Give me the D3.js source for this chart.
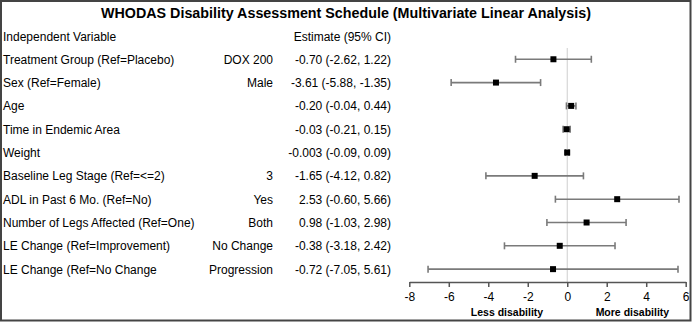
<!DOCTYPE html>
<meta charset="utf-8" />
<script src="https://d3js.org/d3.v7.min.js"></script>
<style>
  body { margin: 0; background: #fff; }
  text { font-family: "Liberation Sans", Arial, sans-serif; }
</style>
<div id="my_dataviz"></div>
<script>
  // chart values
  const variables = [
    "Treatment Group (Ref=Placebo)",
    "Sex (Ref=Female)",
    "Age",
    "Time in Endemic Area",
    "Weight",
    "Baseline Leg Stage (Ref=<=2)",
    "ADL in Past 6 Mo. (Ref=No)",
    "Number of Legs Affected (Ref=One)",
    "LE Change (Ref=Improvement)",
    "LE Change (Ref=No Change",
  ];
  const levels = ["DOX 200", "Male", "", "", "", "3", "Yes", "Both", "No Change", "Progression"];
  const estimateLabels = [
    "-0.70 (-2.62, 1.22)",
    "-3.61 (-5.88, -1.35)",
    "-0.20 (-0.04, 0.44)",
    "-0.03 (-0.21, 0.15)",
    "-0.003 (-0.09, 0.09)",
    "-1.65 (-4.12, 0.82)",
    "2.53 (-0.60, 5.66)",
    "0.98 (-1.03, 2.98)",
    "-0.38 (-3.18, 2.42)",
    "-0.72 (-7.05, 5.61)",
  ];
  // plotted points
  const estimates = [-0.7, -3.61, 0.2, -0.03, -0.003, -1.65, 2.53, 0.98, -0.38, -0.72];
  const lower = [-2.62, -5.88, -0.04, -0.21, -0.09, -4.12, -0.6, -1.03, -3.18, -7.05];
  const upper = [1.22, -1.35, 0.44, 0.15, 0.09, 0.82, 5.66, 2.98, 2.42, 5.61];
  const xTicks = [-8, -6, -4, -2, 0, 2, 4, 6];

  const width = 692,
    height = 322;

  const svg = d3
    .select("#my_dataviz")
    .append("svg")
    .attr("width", width)
    .attr("height", height);

  // frame
  svg
    .append("rect")
    .attr("x", 1)
    .attr("y", 1)
    .attr("width", width - 2.5)
    .attr("height", height - 2.5)
    .attr("fill", "none")
    .attr("stroke", "#444")
    .attr("stroke-width", 2);

  // title
  svg
    .append("text")
    .attr("x", 346)
    .attr("y", 18)
    .attr("text-anchor", "middle")
    .style("font-size", "14.3px")
    .style("font-weight", "bold")
    .text("WHODAS Disability Assessment Schedule (Multivariate Linear Analysis)");

  const x = d3.scaleLinear().domain([-8, 6]).range([409.3, 685.7]);
  const y = d3
    .scaleBand()
    .domain(d3.range(variables.length))
    .range([47.6, 280.8]);
  const yc = (i) => y(i) + y.bandwidth() / 2;

  // header row
  svg
    .append("text")
    .attr("x", 3)
    .attr("y", 40.8)
    .style("font-size", "12px")
    .text("Independent Variable");
  svg
    .append("text")
    .attr("x", 391)
    .attr("y", 40.8)
    .attr("text-anchor", "end")
    .style("font-size", "12px")
    .text("Estimate (95% CI)");

  // text columns
  const rows = svg
    .selectAll(".row")
    .data(variables)
    .join("g")
    .attr("class", "row")
    .attr("transform", (d, i) => `translate(0,${yc(i) + 4.4})`)
    .style("font-size", "12px");
  rows.append("text").attr("x", 3).text((d) => d);
  rows
    .append("text")
    .attr("x", 273)
    .attr("text-anchor", "end")
    .text((d, i) => levels[i]);
  rows
    .append("text")
    .attr("x", 391)
    .attr("text-anchor", "end")
    .text((d, i) => estimateLabels[i]);

  // zero reference line
  svg
    .append("line")
    .attr("x1", x(0))
    .attr("x2", x(0))
    .attr("y1", 48)
    .attr("y2", 282)
    .attr("stroke", "#cfcfcf")
    .attr("stroke-width", 1);

  // confidence intervals
  const ci = svg
    .selectAll(".ci")
    .data(estimates)
    .join("g")
    .attr("class", "ci")
    .attr("stroke", "#7a7a7a")
    .attr("stroke-width", 1.6);
  ci.append("line")
    .attr("x1", (d, i) => x(lower[i]))
    .attr("x2", (d, i) => x(upper[i]))
    .attr("y1", (d, i) => yc(i))
    .attr("y2", (d, i) => yc(i));
  ci.append("line")
    .attr("x1", (d, i) => x(lower[i]))
    .attr("x2", (d, i) => x(lower[i]))
    .attr("y1", (d, i) => yc(i) - 3.5)
    .attr("y2", (d, i) => yc(i) + 3.5);
  ci.append("line")
    .attr("x1", (d, i) => x(upper[i]))
    .attr("x2", (d, i) => x(upper[i]))
    .attr("y1", (d, i) => yc(i) - 3.5)
    .attr("y2", (d, i) => yc(i) + 3.5);

  // point estimates
  svg
    .selectAll(".pt")
    .data(estimates)
    .join("rect")
    .attr("class", "pt")
    .attr("x", (d) => x(d) - 3)
    .attr("y", (d, i) => yc(i) - 3)
    .attr("width", 6)
    .attr("height", 6)
    .attr("fill", "#000");

  // x axis
  const xAxis = svg
    .append("g")
    .attr("transform", "translate(0,282)")
    .call(
      d3
        .axisBottom(x)
        .tickValues(xTicks)
        .tickFormat((d) => String(d))
        .tickSize(5)
        .tickSizeOuter(0)
        .tickPadding(5)
    );
  xAxis.select(".domain").attr("stroke", "#555").attr("stroke-width", 1.5);
  xAxis.selectAll(".tick line").attr("stroke", "#555").attr("stroke-width", 1.5);
  xAxis
    .selectAll(".tick text")
    .style("font-size", "12px")
    .style("font-family", "'Liberation Sans', Arial, sans-serif")
    .attr("fill", "#000");

  svg
    .append("text")
    .attr("x", x(-3.05))
    .attr("y", 315.5)
    .attr("text-anchor", "middle")
    .style("font-size", "10.5px")
    .style("font-weight", "bold")
    .text("Less disability");
  svg
    .append("text")
    .attr("x", x(3.3))
    .attr("y", 315.5)
    .attr("text-anchor", "middle")
    .style("font-size", "10.5px")
    .style("font-weight", "bold")
    .text("More disability");
</script>
